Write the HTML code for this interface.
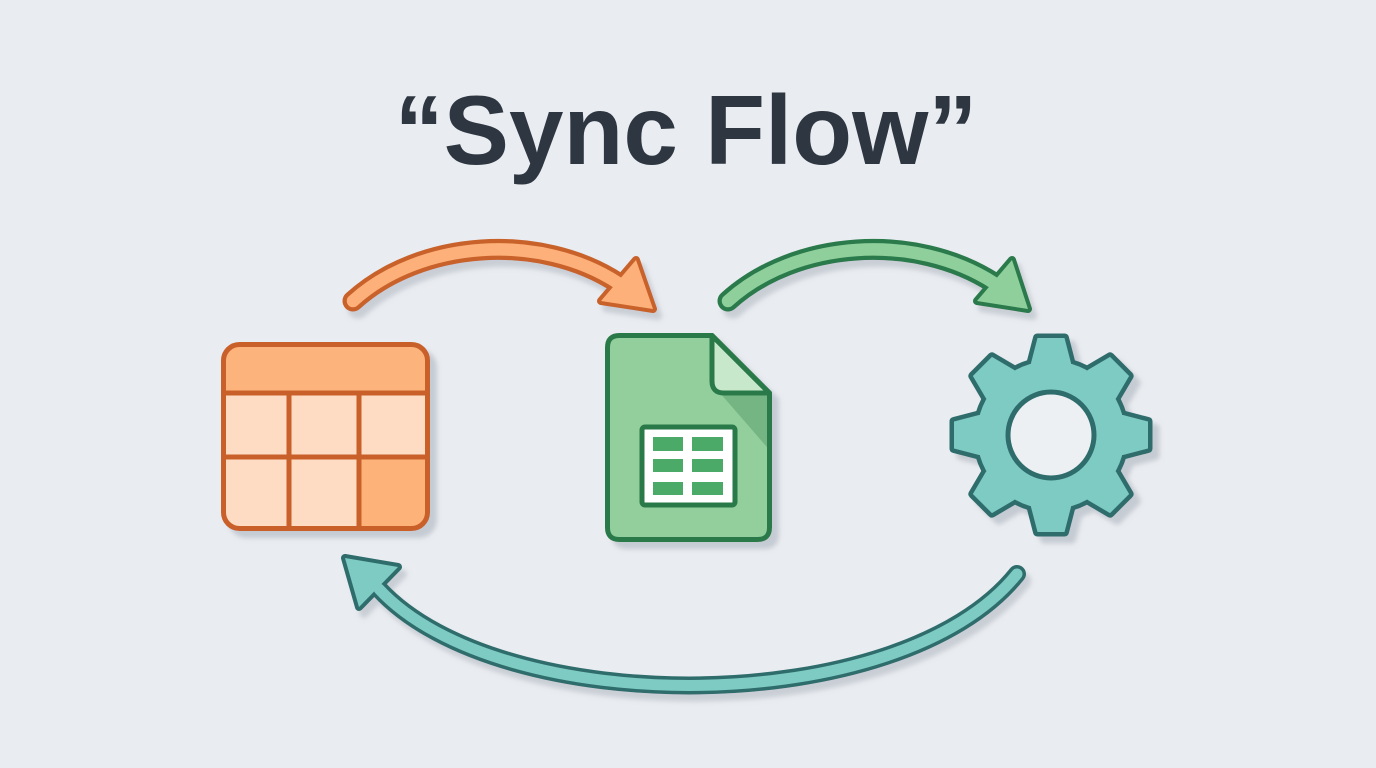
<!DOCTYPE html>
<html>
<head>
<meta charset="utf-8">
<style>
  html,body{margin:0;padding:0;}
  body{width:1376px;height:768px;overflow:hidden;background:#e9ecf0;}
  svg{display:block;}
</style>
</head>
<body>
<svg width="1376" height="768" viewBox="0 0 1376 768" xmlns="http://www.w3.org/2000/svg">
  <defs>
    <filter id="sh" x="-20%" y="-20%" width="150%" height="150%">
      <feDropShadow dx="7" dy="7" stdDeviation="2.5" flood-color="#a9b0bb" flood-opacity="0.55"/>
    </filter>
    <filter id="shs" x="-20%" y="-20%" width="150%" height="150%">
      <feDropShadow dx="5" dy="7" stdDeviation="2.5" flood-color="#a9b0bb" flood-opacity="0.5"/>
    </filter>
  </defs>
  <rect width="1376" height="768" fill="#e9ecf0"/>

  <!-- Title -->
  <text x="686" y="164" text-anchor="middle" font-family="'Liberation Sans', Arial, sans-serif" font-weight="bold" font-size="98" fill="#2e3641">“Sync Flow”</text>

  <!-- Orange arrow -->
  <g filter="url(#shs)">
    <path d="M 353 301 C 420 240, 540 232, 618 283" fill="none" stroke="#c8622a" stroke-width="21" stroke-linecap="round"/>
    <polygon points="653,309 636,260 601,301" fill="#c8622a" stroke="#c8622a" stroke-width="8" stroke-linejoin="round"/>
    <path d="M 353 301 C 420 240, 540 232, 618 283" fill="none" stroke="#fdb07a" stroke-width="12.5" stroke-linecap="round"/>
    <polygon points="653,309 636,260 601,301" fill="#fdb07a"/>
  </g>

  <!-- Green arrow -->
  <g filter="url(#shs)">
    <path d="M 728 301 C 795 240, 915 232, 994 283" fill="none" stroke="#2a7a4b" stroke-width="21" stroke-linecap="round"/>
    <polygon points="1028,309 1012,260 977,301" fill="#2a7a4b" stroke="#2a7a4b" stroke-width="8" stroke-linejoin="round"/>
    <path d="M 728 301 C 795 240, 915 232, 994 283" fill="none" stroke="#8fcf9b" stroke-width="12.5" stroke-linecap="round"/>
    <polygon points="1028,309 1012,260 977,301" fill="#8fcf9b"/>
  </g>

  <!-- Teal return arrow -->
  <g filter="url(#shs)">
    <path d="M 1017 574 C 900 720, 500 720, 379 589" fill="none" stroke="#2f6d6c" stroke-width="18" stroke-linecap="round"/>
    <polygon points="345,558 398,567 359,607" fill="#2f6d6c" stroke="#2f6d6c" stroke-width="8" stroke-linejoin="round"/>
    <path d="M 1017 574 C 900 720, 500 720, 379 589" fill="none" stroke="#7dcbc3" stroke-width="11" stroke-linecap="round"/>
    <polygon points="345,558 398,567 359,607" fill="#7dcbc3"/>
  </g>

  <!-- Table icon -->
  <g filter="url(#sh)">
    <rect x="223.5" y="344.5" width="204" height="184" rx="16" fill="#fddcc3"/>
    <path d="M 239.5 344.5 H 411.5 Q 427.5 344.5 427.5 360.5 V 393 H 223.5 V 360.5 Q 223.5 344.5 239.5 344.5 Z" fill="#fdb37c"/>
    <path d="M 359 457 H 427.5 V 512.5 Q 427.5 528.5 411.5 528.5 H 359 Z" fill="#fdb27a"/>
    <g stroke="#c9612a" stroke-width="5" fill="none">
      <line x1="223.5" y1="393" x2="427.5" y2="393"/>
      <line x1="223.5" y1="457" x2="427.5" y2="457"/>
      <line x1="289" y1="393" x2="289" y2="528.5"/>
      <line x1="359" y1="393" x2="359" y2="528.5"/>
      <rect x="223.5" y="344.5" width="204" height="184" rx="16"/>
    </g>
  </g>

  <!-- Sheet document icon -->
  <g filter="url(#sh)">
    <path d="M 619.5 335.5 H 712 L 769.5 393 V 527.5 Q 769.5 539.5 757.5 539.5 H 619.5 Q 607.5 539.5 607.5 527.5 V 347.5 Q 607.5 335.5 619.5 335.5 Z" fill="#92cf9c"/>
    <polygon points="720,393 769.5,393 769.5,450" fill="#74b583"/>
    <path d="M 712 335.5 V 381 Q 712 393 724 393 H 769.5 Z" fill="#c8e8cb" stroke="#2b7a4a" stroke-width="5" stroke-linejoin="round"/>
    <path d="M 619.5 335.5 H 712 L 769.5 393 V 527.5 Q 769.5 539.5 757.5 539.5 H 619.5 Q 607.5 539.5 607.5 527.5 V 347.5 Q 607.5 335.5 619.5 335.5 Z" fill="none" stroke="#2b7a4a" stroke-width="5" stroke-linejoin="round"/>
    <rect x="642" y="427" width="93" height="78" rx="3" fill="#ffffff" stroke="#2b7a4a" stroke-width="5"/>
    <g fill="#4caa68">
      <rect x="653" y="437" width="30" height="14"/>
      <rect x="692" y="437" width="31" height="14"/>
      <rect x="653" y="459" width="30" height="13"/>
      <rect x="692" y="459" width="31" height="13"/>
      <rect x="653" y="482" width="30" height="13"/>
      <rect x="692" y="482" width="31" height="13"/>
    </g>
  </g>

  <!-- Gear icon -->
  <g filter="url(#sh)" transform="translate(1051,435)">
    <defs>
      <polygon id="toothD" points="-20,-55 -20,-72 -13.5,-97 13.5,-97 20,-72 20,-55"/>
    </defs>
    <g fill="#2f6d6c" stroke="#2f6d6c" stroke-width="9" stroke-linejoin="round">
      <circle r="74"/>
      <use href="#toothD"/>
      <use href="#toothD" transform="rotate(45)"/>
      <use href="#toothD" transform="rotate(90)"/>
      <use href="#toothD" transform="rotate(135)"/>
      <use href="#toothD" transform="rotate(180)"/>
      <use href="#toothD" transform="rotate(225)"/>
      <use href="#toothD" transform="rotate(270)"/>
      <use href="#toothD" transform="rotate(315)"/>
    </g>
    <g fill="#7dcbc3" stroke="none">
      <circle r="74"/>
      <use href="#toothD"/>
      <use href="#toothD" transform="rotate(45)"/>
      <use href="#toothD" transform="rotate(90)"/>
      <use href="#toothD" transform="rotate(135)"/>
      <use href="#toothD" transform="rotate(180)"/>
      <use href="#toothD" transform="rotate(225)"/>
      <use href="#toothD" transform="rotate(270)"/>
      <use href="#toothD" transform="rotate(315)"/>
    </g>
    <circle r="43" fill="#edf0f3" stroke="#2f6d6c" stroke-width="5"/>
  </g>
</svg>
</body>
</html>
